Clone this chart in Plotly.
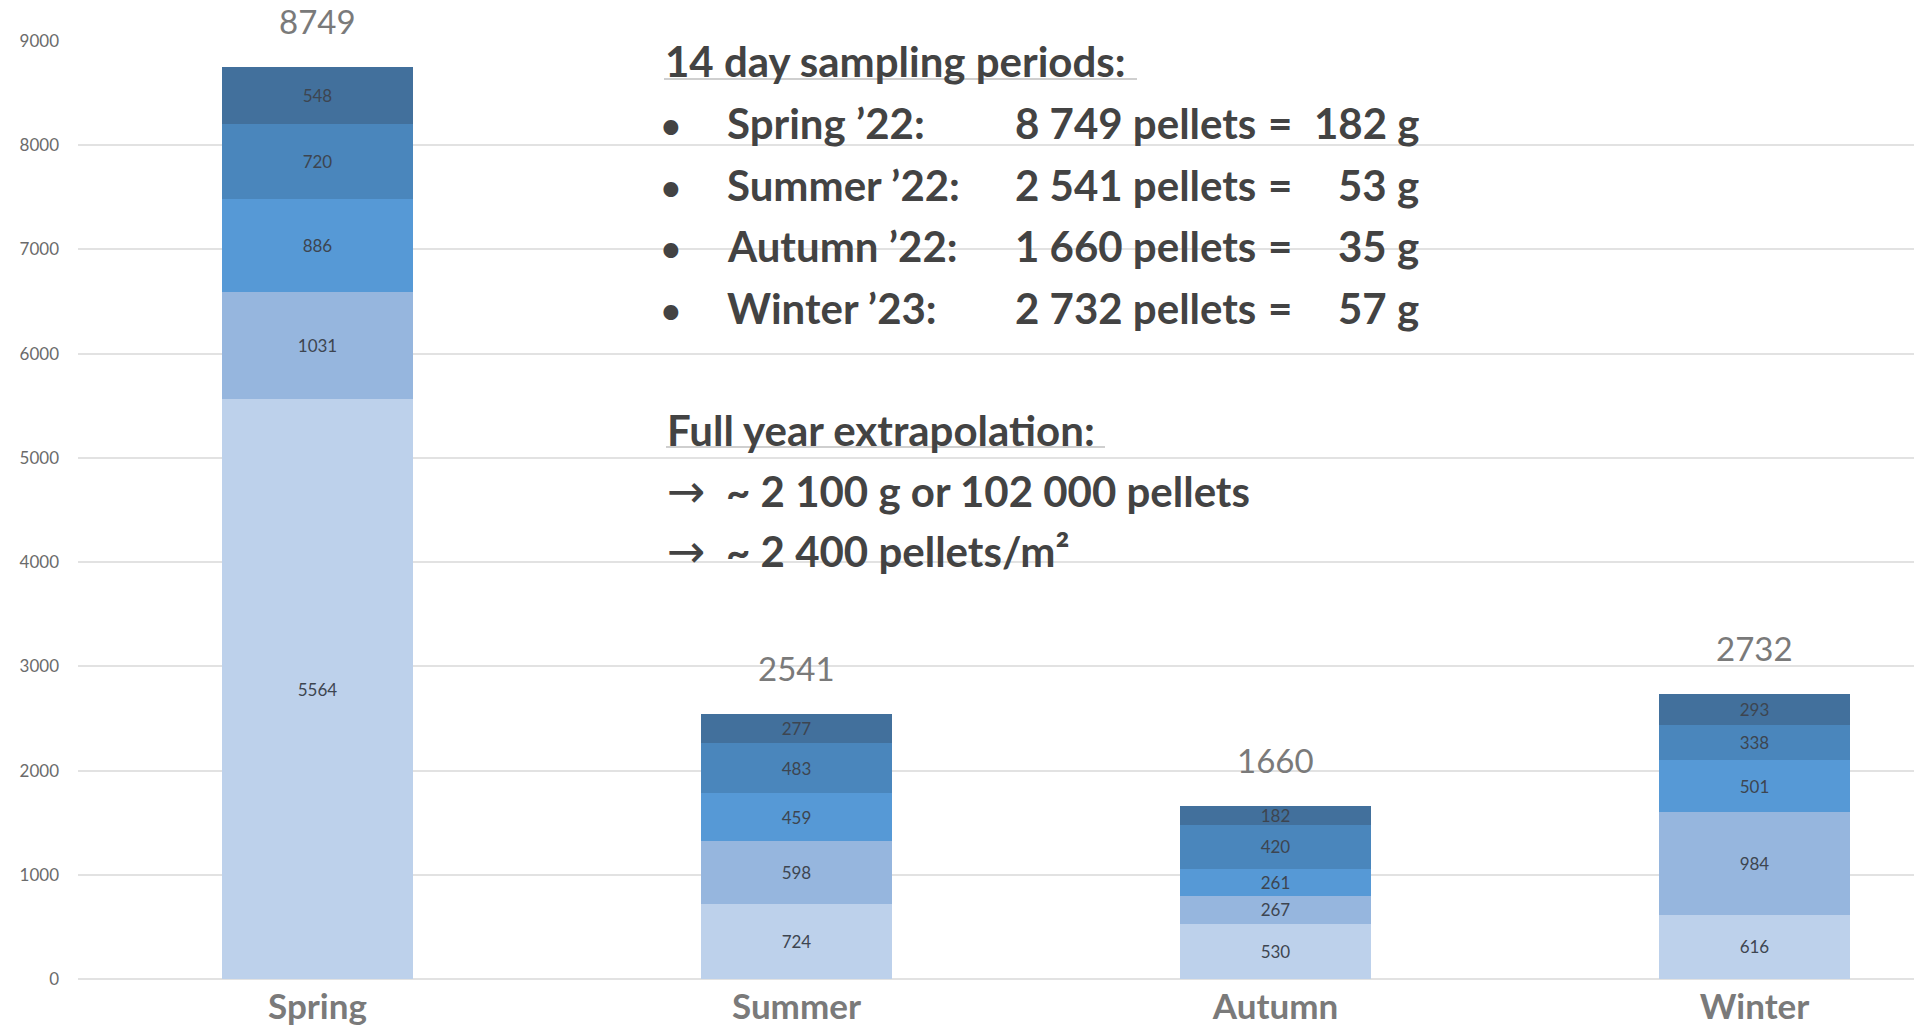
import plotly.graph_objects as go

# ---------------- data ----------------
seasons = ["Spring", "Summer", "Autumn", "Winter"]
layer1 = [5564, 724, 530, 616]
layer2 = [1031, 598, 267, 984]
layer3 = [886, 459, 261, 501]
layer4 = [720, 483, 420, 338]
layer5 = [548, 277, 182, 293]
layer_names = ["Layer 1", "Layer 2", "Layer 3", "Layer 4", "Layer 5"]
y_ticks = [0, 1000, 2000, 3000, 4000, 5000, 6000, 7000, 8000, 9000]

period_labels = ["Spring \u201922:", "Summer \u201922:", "Autumn \u201922:", "Winter \u201923:"]
period_grams = [182, 53, 35, 57]
heading_periods = "14 day sampling periods:"
heading_extra = "Full year extrapolation:"
extrapolation_lines = ["~ 2 100 g or 102 000 pellets", "~ 2 400 pellets/m\u00b2"]

# ---------------- style ----------------
layer_colors = ["#BDD1EB", "#96B6DE", "#5699D6", "#4A86BC", "#42709C"]
W, H = 1914, 1025
L, R, T, B = 78, 0, 41, 46
PW, PH = W - L - R, H - T - B
BAR_PX = 191
CAT_PX = 479
TXT = "#434343"
FONT = "Lato"

layers = [layer1, layer2, layer3, layer4, layer5]
totals = [sum(v) for v in zip(*layers)]


def xp(px):
    return (px - L) / PW


def yp(py):
    return (H - B - py) / PH


fig = go.Figure()
for name, vals, col in zip(layer_names, layers, layer_colors):
    fig.add_trace(go.Bar(
        x=seasons, y=vals, name=name,
        marker=dict(color=col, line=dict(width=0)),
        text=[str(v) for v in vals],
        textposition="inside", insidetextanchor="middle", textangle=0,
        constraintext="none",
        textfont=dict(family=FONT, size=17, color="#3d4550"),
        hoverinfo="skip",
    ))

# totals above the bars
for s, t in zip(seasons, totals):
    fig.add_annotation(x=s, y=t, xref="x", yref="y", text=str(t),
                       showarrow=False, yanchor="bottom", yshift=24,
                       font=dict(family=FONT, size=33, color="#7a7a7a"))


def text_at(txt, x, base, size=42, anchor="left", color=TXT, weight="bold", family=FONT):
    top = base - 0.99 * size - 1
    fig.add_annotation(xref="paper", yref="paper", x=xp(x), y=yp(top),
                       xanchor=anchor, yanchor="top", text=txt, showarrow=False,
                       borderpad=0,
                       font=dict(family=family, size=size, color=color, weight=weight))


# text block
text_at(heading_periods, 664, 78)
row_bases = [140, 202, 263, 325]
for lab, tot, g, b in zip(period_labels, totals, period_grams, row_bases):
    text_at("\u2022", 671, b - 2, size=34, anchor="center")
    text_at(lab, 726, b)
    text_at(f"{tot:,}".replace(",", " ") + " pellets", 1014, b)
    text_at("=", 1293, b, anchor="right")
    text_at(f"{g} g", 1420, b, anchor="right")

text_at(heading_extra, 666, 447)
for line, b in zip(extrapolation_lines, [508, 568]):
    text_at("\u2192", 666, b + 2, size=46, weight="normal", family="DejaVu Sans")
    text_at(line, 725, b)

for x0, x1, yy in [(664, 1137, 79), (666, 1105, 447)]:
    fig.add_shape(type="line", xref="paper", yref="paper",
                  x0=xp(x0), x1=xp(x1), y0=yp(yy), y1=yp(yy),
                  line=dict(color="#a0a0a0", width=1.2))

fig.update_layout(
    width=W, height=H,
    margin=dict(l=L, r=R, t=T, b=B),
    barmode="stack", bargap=1 - BAR_PX / CAT_PX,
    showlegend=False,
    plot_bgcolor="white", paper_bgcolor="white",
    uniformtext=dict(minsize=17, mode="show"),
)
fig.update_xaxes(range=[-0.5, PW / CAT_PX - 0.5], showgrid=False, showline=False,
                 ticks="", ticklabelstandoff=4,
                 tickfont=dict(family=FONT, size=35, color="#7a7a7a", weight="bold"))
fig.update_yaxes(range=[0, 9000], tickvals=y_ticks, showgrid=True, gridcolor="#e2e2e2",
                 gridwidth=2, zeroline=True, zerolinecolor="#e2e2e2", zerolinewidth=2,
                 showline=False, ticks="", ticklabelstandoff=18,
                 tickfont=dict(family=FONT, size=17, color="#6b6b6b"))

fig.write_html("out.html", config={"displayModeBar": False},
               post_script="document.body.style.margin='0';document.body.style.overflow='hidden';")
